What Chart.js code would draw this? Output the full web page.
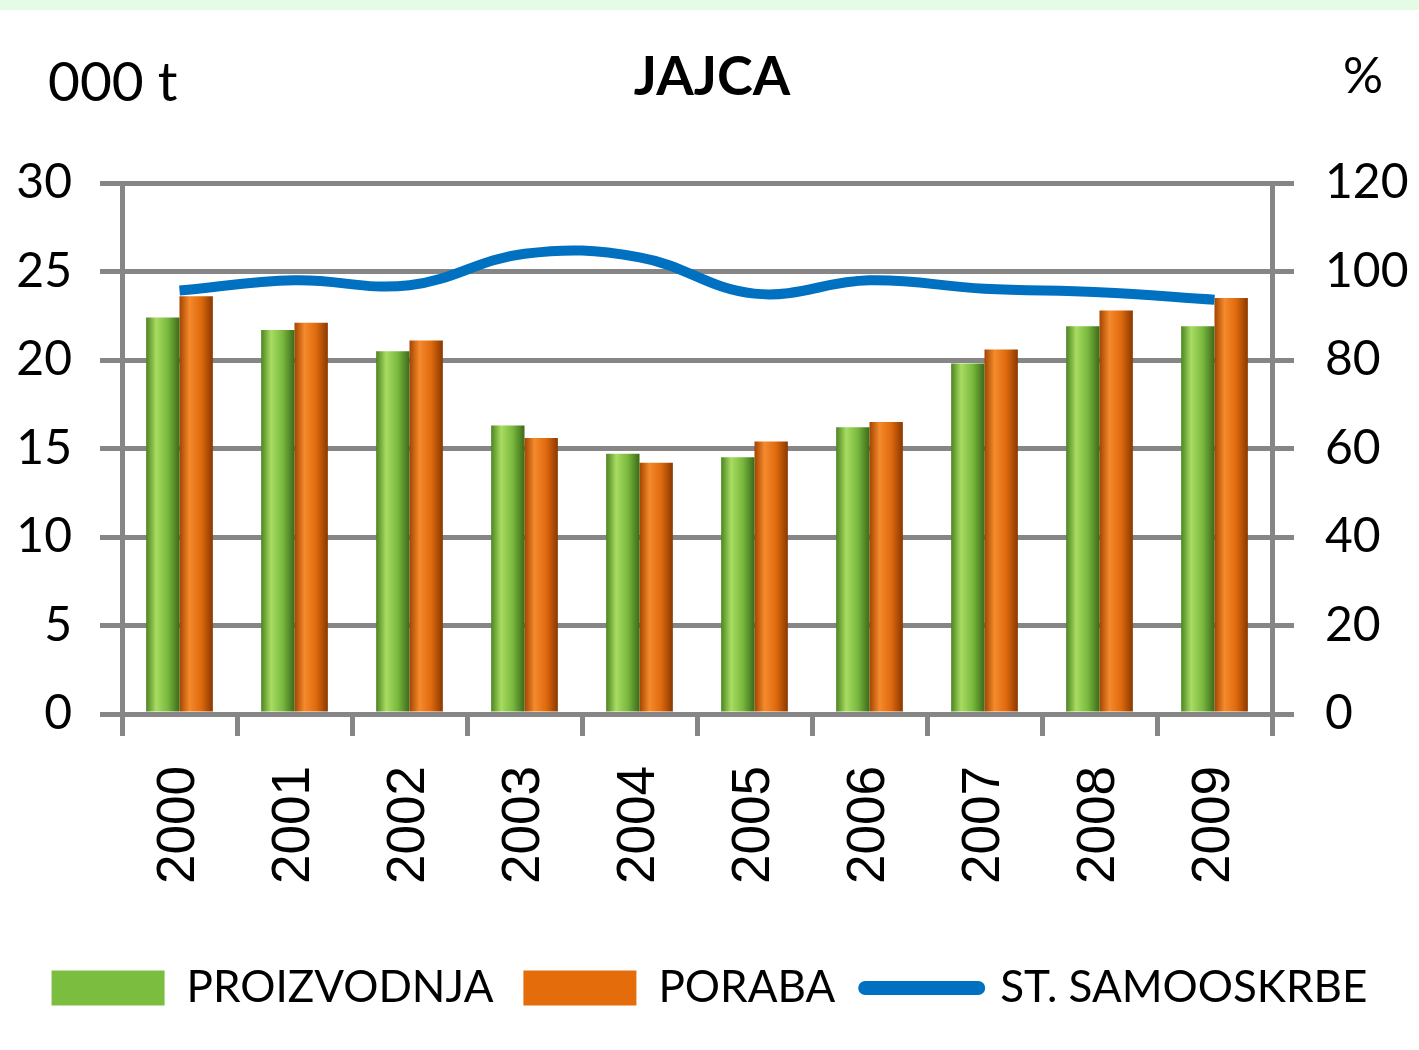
<!DOCTYPE html>
<html>
<head>
<meta charset="utf-8">
<script src="https://cdn.jsdelivr.net/npm/chart.js@4.4.1/dist/chart.umd.min.js"></script>
<style>
body { margin:0; background:#fff; }
.band { position:absolute; left:0; top:0; width:1419px; height:10px; background:#e6fbe6; }
#wrap { position:absolute; left:0; top:0; width:1419px; height:1050px; }
.txt { position:absolute; font-family:Lato, sans-serif; color:#000; white-space:nowrap; }
</style>
</head>
<body>
<div class="band"></div>
<div id="wrap"><canvas id="graphCanvas"></canvas></div>
<div class="txt" style="left:0;width:1424px;top:42px;text-align:center;font-size:54px;font-weight:bold;">JAJCA</div>
<div class="txt" style="left:48px;top:47px;font-size:55px;">000 t</div>
<div class="txt" style="left:1343px;top:44px;font-size:50px;">%</div>
<script>
var years = ['2000','2001','2002','2003','2004','2005','2006','2007','2008','2009'];
var proizvodnja = [22.4, 21.7, 20.5, 16.3, 14.7, 14.5, 16.2, 19.8, 21.9, 21.9];
var poraba = [23.6, 22.1, 21.1, 15.6, 14.2, 15.4, 16.5, 20.6, 22.8, 23.5];
var samooskrba = [95.7, 98.0, 96.9, 104.0, 103.2, 95.0, 98.0, 96.1, 95.3, 93.6];

var greenStops = ['#4c8420', '#a8dc62', '#79b83e', '#3b6a18'];
var orangeStops = ['#a34400', '#f58a2c', '#df6a0e', '#8a3800'];
var gridColor = '#868686';

function barFill(side, stops) {
    return function(ctx) {
        var chart = ctx.chart;
        var x = chart.scales.x;
        if (!x || ctx.type !== 'data') return stops[2];
        var c = x.getPixelForValue(ctx.dataIndex);
        var w = x.width / years.length * 0.58 / 2;
        var left = side == 0 ? c - w : c;
        var g = chart.ctx.createLinearGradient(left, 0, left + w, 0);
        g.addColorStop(0, stops[0]);
        g.addColorStop(0.3, stops[1]);
        g.addColorStop(0.65, stops[2]);
        g.addColorStop(1, stops[3]);
        return g;
    };
}

Chart.defaults.color = '#000';
Chart.defaults.font.family = 'Lato, sans-serif';

var chartdata = {
    labels: years,
    datasets: [
        {
            type: 'bar',
            label: 'PROIZVODNJA',
            data: proizvodnja,
            backgroundColor: barFill(0, greenStops),
            borderWidth: 0,
            yAxisID: 'y',
            order: 1
        },
        {
            type: 'bar',
            label: 'PORABA',
            data: poraba,
            backgroundColor: barFill(1, orangeStops),
            borderWidth: 0,
            yAxisID: 'y',
            order: 1
        },
        {
            type: 'line',
            label: 'ST. SAMOOSKRBE',
            data: samooskrba,
            borderColor: '#0070c0',
            backgroundColor: '#0070c0',
            borderWidth: 10,
            tension: 0.4,
            pointRadius: 0,
            fill: false,
            yAxisID: 'y1',
            order: 0
        }
    ]
};

var legendColors = ['#7bbd3e', '#e46c0a', '#0070c0'];

var graphTarget = document.getElementById('graphCanvas');
var barGraph = new Chart(graphTarget, {
    type: 'bar',
    data: chartdata,
    options: {
        responsive: true,
        maintainAspectRatio: false,
        animation: false,
        categoryPercentage: 0.58,
        barPercentage: 1,
        layout: { padding: { top: 183, left: 0, right: 0, bottom: 30 } },
        plugins: {
            title: { display: false },
            tooltip: { enabled: false },
            legend: {
                position: 'bottom',
                labels: {
                    usePointStyle: true,
                    pointStyleWidth: 113,
                    boxHeight: 35,
                    padding: 30,
                    font: { size: 44 },
                    generateLabels: function(chart) {
                        return chart.data.datasets.map(function(ds, i) {
                            var isLine = ds.type == 'line';
                            return {
                                text: ds.label,
                                fillStyle: legendColors[i],
                                strokeStyle: legendColors[i],
                                lineWidth: isLine ? 14 : 0,
                                lineCap: 'round',
                                pointStyle: isLine ? 'line' : 'rect',
                                fontColor: '#000',
                                datasetIndex: i
                            };
                        });
                    }
                }
            }
        },
        scales: {
            x: {
                offset: true,
                grid: {
                    drawOnChartArea: false,
                    drawTicks: true,
                    tickLength: 22,
                    tickWidth: 5,
                    color: gridColor,
                    offset: true
                },
                border: { display: true, color: gridColor, width: 5 },
                ticks: {
                    autoSkip: false,
                    minRotation: 90,
                    maxRotation: 90,
                    padding: 30,
                    font: { family: 'Liberation Sans', size: 53 }
                },
                afterFit: function(s) { s.height = 222; }
            },
            y: {
                position: 'left',
                min: 0,
                max: 30,
                ticks: { stepSize: 5, padding: 28, font: { size: 48 } },
                grid: { color: gridColor, lineWidth: 5, tickLength: 22 },
                border: { display: true, color: gridColor, width: 5 },
                afterFit: function(s) { s.width = 122; }
            },
            y1: {
                position: 'right',
                min: 0,
                max: 120,
                ticks: { stepSize: 20, padding: 31, font: { size: 48 } },
                grid: { drawOnChartArea: false, color: gridColor, lineWidth: 5, tickLength: 22 },
                border: { display: true, color: gridColor, width: 5 },
                afterFit: function(s) { s.width = 147; }
            }
        }
    }
});
</script>
</body>
</html>
